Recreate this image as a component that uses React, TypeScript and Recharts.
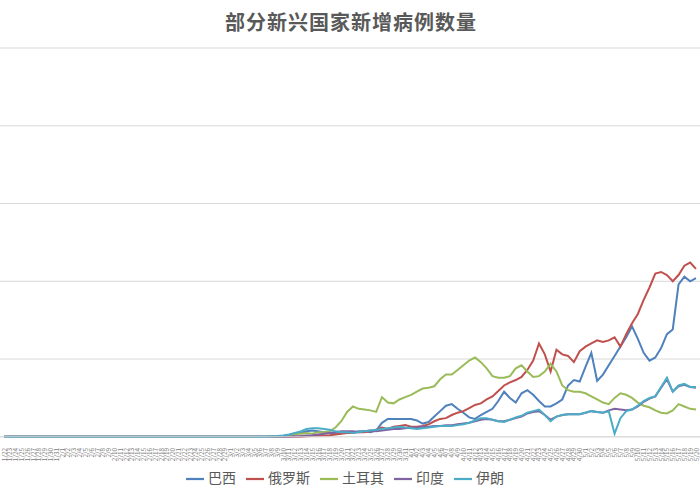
import React from "react";
import {
  LineChart,
  Line,
  XAxis,
  YAxis,
  CartesianGrid,
  Legend,
} from "recharts";

const FONT = '"Noto Sans CJK SC", "Noto Sans", sans-serif';

// month, first day, last day
const MONTH_SPANS = [
  [1, 22, 31],
  [2, 1, 29],
  [3, 1, 31],
  [4, 1, 30],
  [5, 1, 20],
];

const DATES: string[] = [];
MONTH_SPANS.forEach(([m, from, to]) => {
  for (let d = from; d <= to; d++) DATES.push(`${m}/${d}`);
});

const Y_TICKS = [0, 5000, 10000, 15000, 20000, 25000];

// 巴西
const BRAZIL = [
  0, 0, 0, 0, 0, 0, 0, 0, 0, 0,
  0, 0, 0, 0, 0, 0, 0, 0, 0, 0,
  0, 0, 0, 0, 0, 0, 0, 0, 0, 0,
  0, 0, 0, 0, 0, 0, 0, 0, 0, 0,
  0, 0, 0, 0, 0, 0, 0, 0, 50, 80,
  150, 250, 350, 400, 350, 300, 250, 200, 250, 300,
  300, 350, 350, 300, 400, 900, 1150, 1150, 1150, 1150,
  1150, 1050, 850, 950, 1300, 1650, 2000, 2100, 1800, 1550,
  1250, 1150, 1400, 1600, 1800, 2300, 2900, 2500, 2200, 2800,
  3000, 2700, 2300, 1950, 1950, 2150, 2400, 3300, 3650, 3550,
  4500, 5400, 3600, 4000, 4600, 5200, 5800, 6400, 7100, 6300,
  5400, 4900, 5100, 5700, 6600, 6900, 9800, 10300, 10000, 10200,
];

// 俄罗斯
const RUSSIA = [
  0, 0, 0, 0, 0, 0, 0, 0, 0, 0,
  0, 0, 0, 0, 0, 0, 0, 0, 0, 0,
  0, 0, 0, 0, 0, 0, 0, 0, 0, 0,
  0, 0, 0, 0, 0, 0, 0, 0, 0, 0,
  0, 0, 0, 0, 0, 0, 0, 0, 0, 0,
  0, 0, 30, 50, 60, 80, 100, 150, 200, 250,
  250, 300, 300, 350, 450, 600, 500, 650, 700, 750,
  650, 650, 700, 800, 1000, 1150, 1200, 1400, 1550, 1650,
  1850, 2050, 2150, 2400, 2600, 2950, 3300, 3500, 3650, 3850,
  4300, 4900, 6000, 5300, 4200, 5600, 5300, 5200, 4800, 5500,
  5800, 6000, 6200, 6100, 6200, 6400, 5800, 6600, 7300, 7900,
  8800, 9600, 10500, 10600, 10400, 10000, 10400, 11000, 11200, 10800,
];

// 土耳其
const TURKEY = [
  0, 0, 0, 0, 0, 0, 0, 0, 0, 0,
  0, 0, 0, 0, 0, 0, 0, 0, 0, 0,
  0, 0, 0, 0, 0, 0, 0, 0, 0, 0,
  0, 0, 0, 0, 0, 0, 0, 0, 0, 0,
  0, 0, 0, 0, 0, 0, 0, 0, 50, 100,
  150, 200, 250, 200, 300, 300, 350, 600, 1000, 1600,
  1950, 1800, 1750, 1700, 1600, 2550, 2200, 2150, 2400, 2550,
  2700, 2900, 3100, 3150, 3250, 3700, 4000, 4000, 4300, 4600,
  4900, 5100, 4800, 4400, 3900, 3800, 3800, 3900, 4400, 4600,
  4200, 3850, 3900, 4200, 4700, 4200, 3300, 3000, 2900, 2900,
  2800, 2600, 2400, 2200, 2100, 2500, 2800, 2700, 2500, 2200,
  2000, 1900, 1700, 1550, 1500, 1700, 2100, 1950, 1800, 1750,
];

// 印度
const INDIA = [
  0, 0, 0, 0, 0, 0, 0, 0, 0, 0,
  0, 0, 0, 0, 0, 0, 0, 0, 0, 0,
  0, 0, 0, 0, 0, 0, 0, 0, 0, 0,
  0, 0, 0, 0, 0, 0, 0, 0, 0, 0,
  0, 0, 0, 0, 0, 0, 0, 0, 0, 0,
  30, 50, 80, 100, 150, 200, 250, 300, 350, 350,
  350, 300, 350, 400, 350, 400, 450, 500, 500, 550,
  600, 600, 650, 650, 700, 700, 750, 750, 800, 850,
  900, 1000, 1100, 1150, 1100, 1000, 1000, 1100, 1200, 1300,
  1500, 1600, 1650, 1400, 1100, 1300, 1400, 1450, 1450, 1450,
  1550, 1650, 1600, 1550, 1700, 1800, 1750, 1700, 1750, 1950,
  2250, 2450, 2600, 3150, 3700, 2900, 3250, 3350, 3200, 3150,
];

// 伊朗
const IRAN = [
  0, 0, 0, 0, 0, 0, 0, 0, 0, 0,
  0, 0, 0, 0, 0, 0, 0, 0, 0, 0,
  0, 0, 0, 0, 0, 0, 0, 0, 0, 0,
  0, 0, 0, 0, 0, 0, 0, 0, 0, 0,
  0, 0, 0, 0, 0, 0, 30, 50, 80, 150,
  250, 350, 500, 550, 550, 500, 450, 350, 300, 300,
  250, 300, 350, 400, 450, 500, 550, 600, 650, 600,
  550, 500, 550, 600, 650, 700, 700, 700, 750, 800,
  900, 1050, 1200, 1200, 1100, 1000, 950, 1100, 1250, 1350,
  1550, 1650, 1750, 1400, 1000, 1300, 1400, 1450, 1450, 1450,
  1550, 1650, 1600, 1550, 1650, 200, 1200, 1650, 1750, 2000,
  2300, 2500, 2600, 3200, 3800, 2900, 3300, 3400, 3200, 3200,
];

const SERIES = [
  { key: "巴西", values: BRAZIL, color: "#4F81BD" },
  { key: "俄罗斯", values: RUSSIA, color: "#C0504D" },
  { key: "土耳其", values: TURKEY, color: "#9BBB59" },
  { key: "印度", values: INDIA, color: "#8064A2" },
  { key: "伊朗", values: IRAN, color: "#4BACC6" },
];

const SERIES_ORDER = SERIES.map((s) => s.key);

const chartData = DATES.map((date, i) => {
  const row: Record<string, string | number> = { date };
  SERIES.forEach((s) => {
    row[s.key] = s.values[i];
  });
  return row;
});

function DateTick(props: any) {
  const { x, y, payload } = props;
  const ty = y + 3;
  return (
    <text
      x={x}
      y={ty}
      dy={2.5}
      transform={`rotate(-90 ${x} ${ty})`}
      textAnchor="end"
      fontSize={6.5}
      fill="#808080"
      fontFamily={FONT}
    >
      {payload.value}
    </text>
  );
}

export default function App() {
  return (
    <div
      style={{
        position: "fixed",
        left: 0,
        top: 0,
        width: 700,
        height: 500,
        background: "#fff",
        fontFamily: FONT,
      }}
    >
      <div
        style={{
          position: "absolute",
          top: 7,
          left: 0,
          width: 702,
          textAlign: "center",
          fontSize: 20,
          fontWeight: "bold",
          color: "#595959",
          letterSpacing: 1,
        }}
      >
        部分新兴国家新增病例数量
      </div>
      <LineChart
        width={700}
        height={500}
        data={chartData}
        margin={{ top: 48, right: 0, left: 0, bottom: 12 }}
      >
        <CartesianGrid horizontal vertical={false} stroke="#d9d9d9" />
        <XAxis
          dataKey="date"
          interval={0}
          tickLine={false}
          axisLine={{ stroke: "#d9d9d9" }}
          height={30}
          padding={{ left: 4, right: 4 }}
          tick={<DateTick />}
        />
        <YAxis hide domain={[0, 25000]} ticks={Y_TICKS} />
        <Legend
          verticalAlign="bottom"
          iconType="plainline"
          iconSize={18}
          itemSorter={(item: any) => SERIES_ORDER.indexOf(item.value)}
          wrapperStyle={{ fontSize: 14, fontFamily: FONT }}
          formatter={(value) => (
            <span style={{ color: "#595959" }}>{value}</span>
          )}
        />
        {SERIES.map((s) => (
          <Line
            key={s.key}
            type="linear"
            dataKey={s.key}
            name={s.key}
            stroke={s.color}
            strokeWidth={2}
            dot={false}
            isAnimationActive={false}
          />
        ))}
      </LineChart>
    </div>
  );
}
